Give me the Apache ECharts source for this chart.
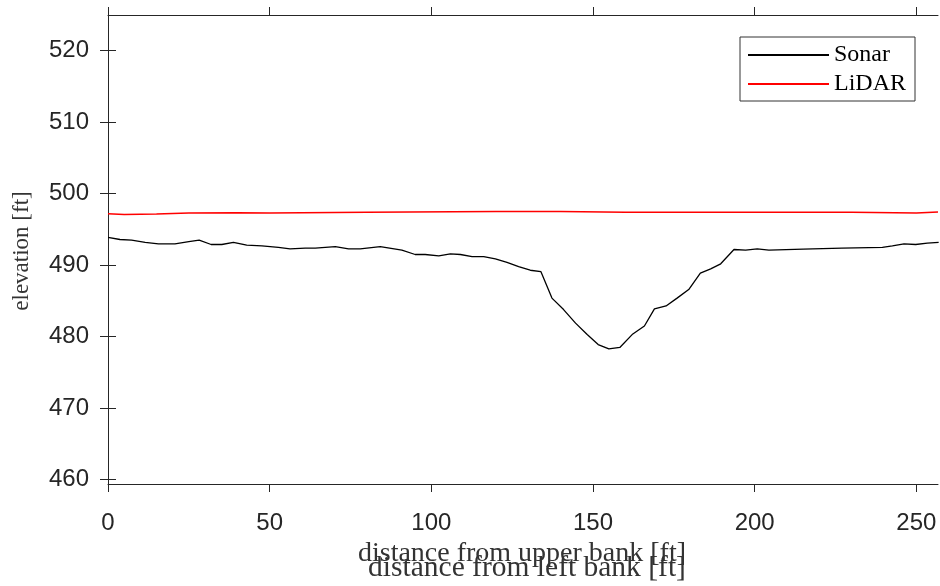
<!DOCTYPE html>
<html>
<head>
<meta charset="utf-8">
<script src="https://cdn.jsdelivr.net/npm/echarts@6/dist/echarts.min.js"></script>
<style>html,body{margin:0;padding:0;background:#fff}#c{width:940px;height:586px}</style>
</head>
<body>
<div id="c"></div>
<script>
// ---- data ----
const sonarDist = [0,3.7,7.3,11.5,15.6,20.7,25,28.2,31.9,35.2,38.8,42.9,47.6,52.7,56.3,61,64.1,70.3,74.4,78,84.2,90.9,95,98.1,102.3,105.9,109,112.6,116.2,119.8,123.4,127,130.6,133.9,137.3,140.9,144.6,148.2,151.6,154.9,158.3,162.1,165.9,169,172.6,176,179.6,183.2,186.4,189.5,193.6,197.2,200.8,204.4,215,227,239.5,242.6,246.2,249.8,253.4,256.9];
const sonarElev = [493.9,493.6,493.5,493.2,493.0,493.0,493.3,493.5,492.9,492.9,493.2,492.8,492.7,492.5,492.3,492.4,492.4,492.6,492.3,492.3,492.6,492.1,491.5,491.5,491.3,491.6,491.5,491.2,491.2,490.9,490.4,489.8,489.3,489.1,485.4,483.8,481.9,480.3,478.9,478.3,478.5,480.3,481.5,483.9,484.3,485.4,486.6,488.9,489.5,490.2,492.2,492.1,492.3,492.1,492.25,492.4,492.5,492.7,493.0,492.9,493.1,493.2];
const lidarDist = [0,5,15,25,40,50,80,120,140,160,200,230,250,256.7];
const lidarElev = [497.2,497.1,497.15,497.3,497.35,497.3,497.4,497.5,497.5,497.4,497.4,497.4,497.3,497.45];
const xTicks = [0,50,100,150,200,250];
const yTicks = [460,470,480,490,500,510,520];
const seriesNames = ['Sonar','LiDAR'];
const xTitleUpper = 'distance from upper bank [ft]';
const xTitleLower = 'distance from left bank [ft]';
const yTitle = 'elevation [ft]';

const zip = (a,b) => a.map((v,i)=>[v,b[i]]);
const axisCol = '#262626';
const sansFont = 'Liberation Sans';
const serifFont = 'Liberation Serif';

function xAx(pos, show){
  return {type:'value', position:pos, min:0, max:256.7, gridIndex:0,
    axisLine:{show:true,lineStyle:{color:axisCol,width:1}},
    axisTick:{show:true,inside:false,length:8,customValues:xTicks,lineStyle:{color:axisCol}},
    axisLabel:{show:show,customValues:xTicks,margin:27,fontFamily:sansFont,fontSize:24,color:axisCol},
    splitLine:{show:false}};
}
function yAx(pos, show){
  return {type:'value', position:pos, min:459.4, max:525,
    axisLine:{show:true,lineStyle:{color:axisCol,width:1}},
    axisTick:{show:true,inside:false,length:8,customValues:yTicks,lineStyle:{color:axisCol}},
    axisLabel:{show:show,customValues:yTicks,margin:19,padding:[8,0,0,0],fontFamily:sansFont,fontSize:24,color:axisCol},
    splitLine:{show:false}};
}

const chart = echarts.init(document.getElementById('c'), null, {renderer:'canvas'});
chart.setOption({
  animation:false,
  backgroundColor:'#fff',
  grid:{left:108,right:2,top:15,bottom:102,containLabel:false},
  xAxis:[xAx('bottom',true), xAx('top',false)],
  yAxis:[yAx('left',true), yAx('right',false)],
  legend:{
    orient:'vertical', left:740, top:37,
    padding:[6,9,5,8], itemGap:5, itemWidth:81, itemHeight:2, itemTextGap:9,
    icon:'rect',
    borderColor:'#333', borderWidth:1, backgroundColor:'#fff',
    textStyle:{fontFamily:serifFont,fontSize:24,lineHeight:22,color:'#000'},
    data:seriesNames
  },
  series:[
    {name:seriesNames[0], type:'line', data:zip(sonarDist,sonarElev), showSymbol:false, symbol:'none',
     lineStyle:{color:'#000',width:1.3}, itemStyle:{color:'#000'}},
    {name:seriesNames[1], type:'line', data:zip(lidarDist,lidarElev), showSymbol:false, symbol:'none',
     lineStyle:{color:'#ff0000',width:1.5}, itemStyle:{color:'#ff0000'}}
  ],
  graphic:[
    {type:'text', x:522, y:554, style:{text:xTitleUpper, fontFamily:serifFont, fontSize:28, fill:'#333', align:'center', verticalAlign:'middle'}},
    {type:'text', x:527, y:568, style:{text:xTitleLower, fontFamily:serifFont, fontSize:29.5, fill:'#333', align:'center', verticalAlign:'middle'}},
    {type:'text', x:22, y:251, rotation:Math.PI/2, style:{text:yTitle, fontFamily:serifFont, fontSize:23, fill:'#333', align:'center', verticalAlign:'middle'}}
  ]
});
</script>
</body>
</html>
